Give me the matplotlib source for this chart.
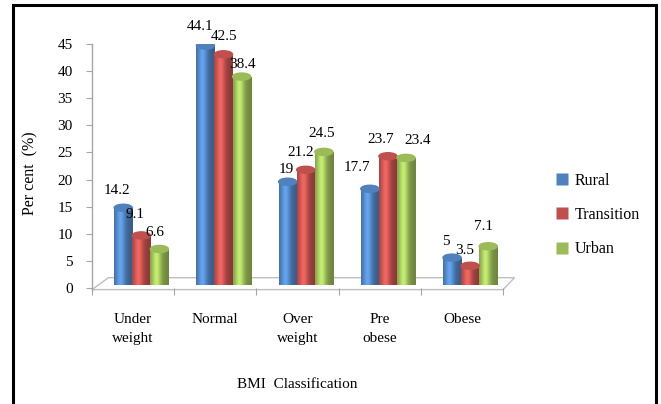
import matplotlib
matplotlib.use("Agg")
import matplotlib.pyplot as plt
import numpy as np
from matplotlib.patches import Rectangle, Polygon, Ellipse
from matplotlib.colors import to_rgb
from matplotlib.lines import Line2D

categories = ["Under\nweight", "Normal", "Over\nweight", "Pre\nobese", "Obese"]
series_names = ["Rural", "Transition", "Urban"]
rural = [14.2, 44.1, 19, 17.7, 5]
transition = [9.1, 42.5, 21.2, 23.7, 3.5]
urban = [6.6, 38.4, 24.5, 23.4, 7.1]
yticks = [0, 5, 10, 15, 20, 25, 30, 35, 40, 45]

# value-label nudges (pixels) relative to each bar top centre
label_dx = [[-6, -5, -1, -13, -6], [-6, 1, -5, -7, -5], [-5, 1, -2, 12, -5]]
label_dy = [[21, 22, 15, 25, 19], [24, 21, 21, 20, 19], [20, 15, 22, 21, 23]]

colors = ["#4F81BD", "#C0504D", "#9BBB59"]
plt.rcParams['font.family'] = ['Liberation Serif', 'DejaVu Serif']

W, H = 661, 404
fig = plt.figure(figsize=(W / 100, H / 100), dpi=100)

def fx(px):
    return px / W

def fy(py):
    return 1 - py / H

# outer frame
fig.patches.append(Rectangle((fx(13), fy(406)), fx(656) - fx(13), fy(5) - fy(406),
                             transform=fig.transFigure, fill=False, edgecolor='black',
                             linewidth=2.2, clip_on=False))

left, right, top, bottom = 92, 503, 44, 288
ax = fig.add_axes([fx(left), fy(bottom), fx(right) - fx(left), fy(top) - fy(bottom)])
ax.set_xlim(-0.5, len(categories) - 0.5)
ax.set_ylim(0, 45)
for s in ax.spines.values():
    s.set_visible(False)
ax.patch.set_alpha(0)

# floor (pseudo 3D)
xr = ax.get_xlim()
floor = Polygon([[xr[0], -0.3], [xr[0] + 0.2, 1.9], [xr[1] + 0.14, 1.9], [xr[1], -0.3]],
                closed=True, fill=False, edgecolor='#BFBFBF', linewidth=1.0, clip_on=False)
ax.add_patch(floor)
ax.plot([xr[0], xr[0]], [-0.3, 45], color='#A6A6A6', lw=1.0, clip_on=False)

ax.set_yticks(yticks)
ax.set_yticklabels([str(v) for v in yticks], fontsize=11)
ax.tick_params(axis='y', length=4, color='#A6A6A6', pad=10)
ax.set_xticks(np.arange(-0.5, len(categories), 1.0))
ax.set_xticklabels([])
ax.tick_params(axis='x', length=5, color='#A6A6A6', direction='out')

x = np.arange(len(categories))
bw = 0.22
offset = 0.1
data = [rural, transition, urban]

def shade(c):
    r, g, b = to_rgb(c)
    n = 64
    t = np.linspace(0, 1, n)
    prof = 0.82 + 0.45 * np.exp(-((t - 0.35) / 0.25) ** 2)
    prof = np.where(t < 0.35, prof, prof * (1 - 0.2 * (t - 0.35)))
    arr = np.zeros((1, n, 3))
    for i, ch in enumerate((r, g, b)):
        arr[0, :, i] = np.clip(ch * prof, 0, 1)
    return arr

for i, (vals, c) in enumerate(zip(data, colors)):
    pos = x + offset + (i - 1) * bw
    bars = ax.bar(pos, vals, bw, bottom=0.6, color=c, edgecolor='none', label=series_names[i], zorder=3)
    img = shade(c)
    for j, (b, v, p) in enumerate(zip(bars, vals, pos)):
        im = ax.imshow(img, extent=[b.get_x(), b.get_x() + b.get_width(), b.get_y(), b.get_y() + b.get_height()],
                       aspect='auto', zorder=4, interpolation='bilinear')
        im.set_clip_path(b)
        ax.add_patch(Ellipse((p, v + 0.6), bw, 1.3, color=to_rgb(c), zorder=5))
        ax.annotate(f"{v:g}", xy=(p, v), xytext=(label_dx[i][j], label_dy[i][j]),
                    textcoords='offset pixels', ha='center', va='center', fontsize=11, zorder=6)

ax.set_xlim(-0.5, len(categories) - 0.5)
ax.set_ylim(0, 45)

for xi, cat in zip(x, categories):
    ax.text(xi, -4.7, cat, ha='center', va='top', fontsize=11, linespacing=1.55,
            transform=ax.transData, clip_on=False)

fig.text(fx(297), fy(384), "BMI  Classification", ha='center', va='center', fontsize=11)
fig.text(fx(30), fy(173), "Per cent  (%)", ha='center', va='center', rotation=90, fontsize=11.5)

# legend
handles = [Line2D([], [], marker='s', linestyle='none', markersize=8, markerfacecolor=c, markeredgecolor='none')
           for c in colors]
fig.legend(handles, series_names, loc='center left', bbox_to_anchor=(fx(556), fy(215)),
           frameon=False, fontsize=11.5, handlelength=0.8, handletextpad=0.35, labelspacing=1.15,
           borderaxespad=0, borderpad=0)

fig.savefig("out.png", dpi=100)
